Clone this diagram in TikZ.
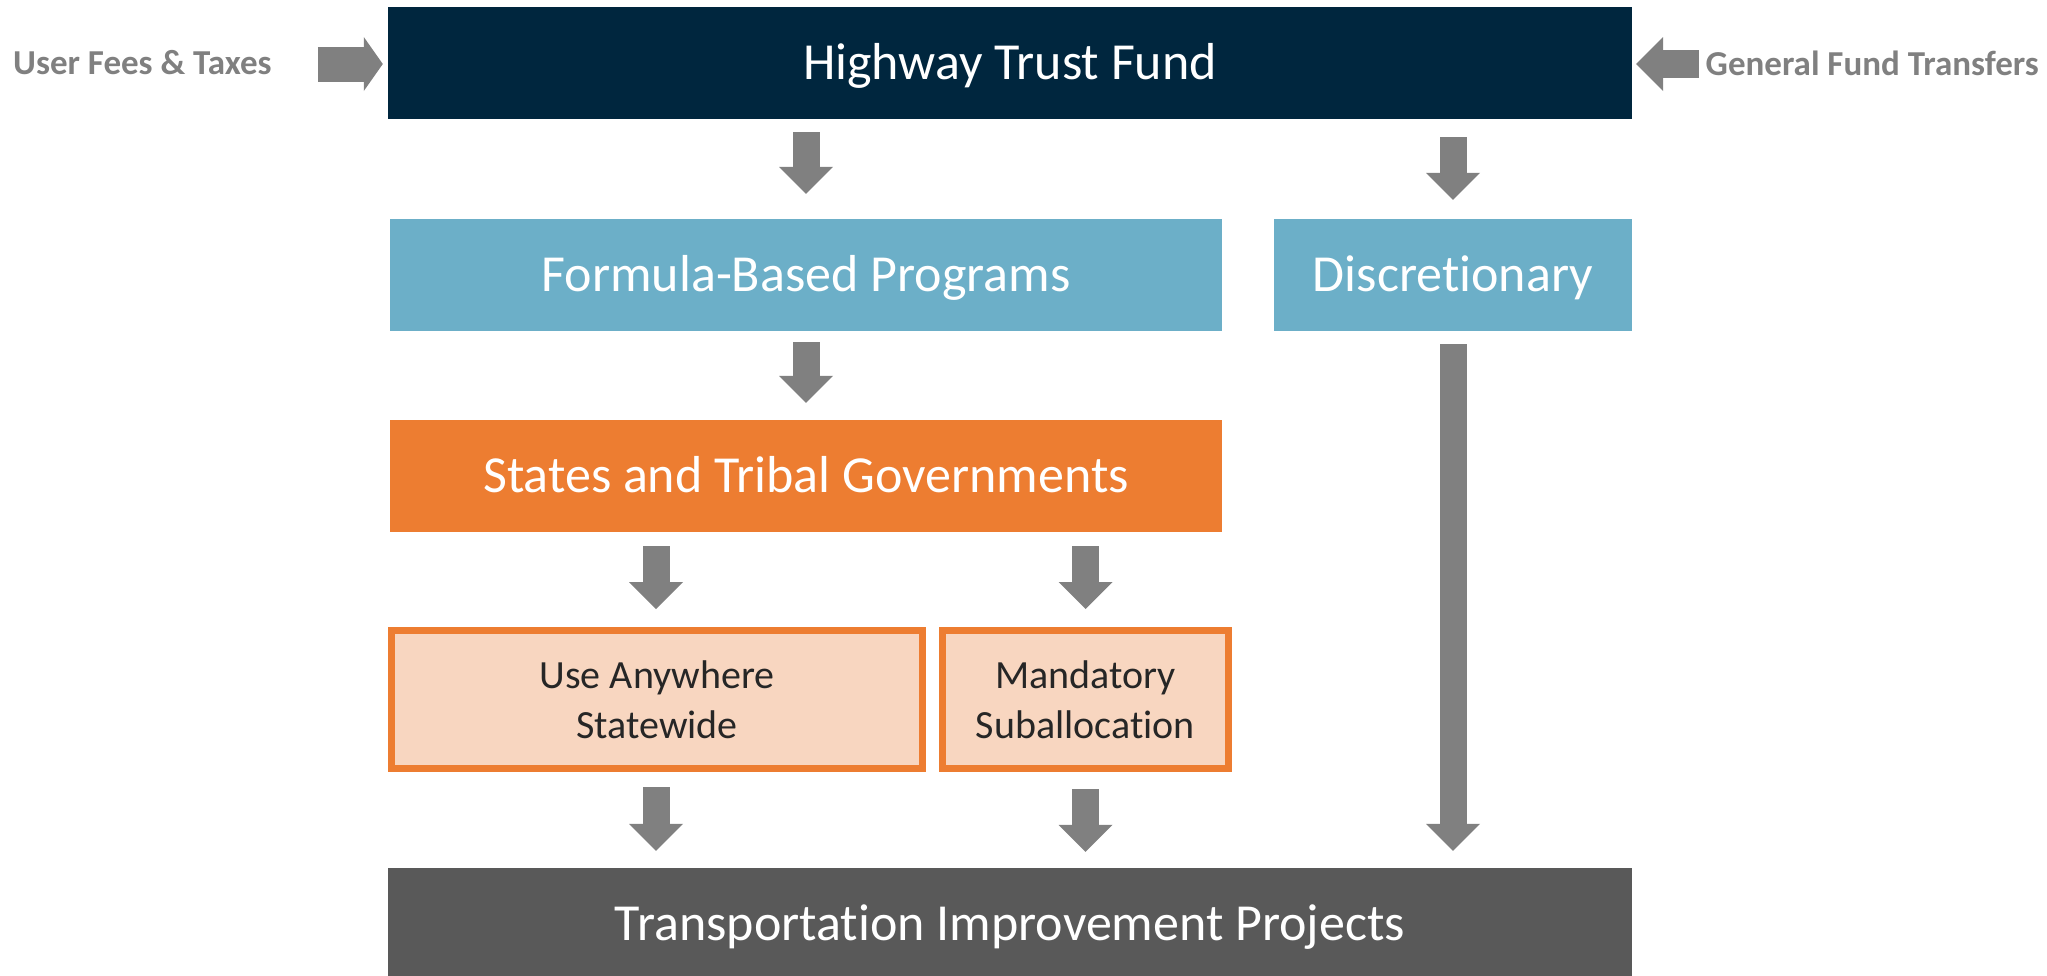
\documentclass[tikz,border=0pt]{standalone}
\usepackage{fontspec}
\setmainfont[Ligatures=NoCommon]{Carlito}
\usetikzlibrary{arrows.meta,calc}
\definecolor{navy}{HTML}{00263E}
\definecolor{lblue}{HTML}{6CAFC8}
\definecolor{orng}{HTML}{ED7D31}
\definecolor{peach}{HTML}{F8D6C0}
\definecolor{dgray}{HTML}{595959}
\definecolor{agray}{HTML}{808080}
\definecolor{tdark}{HTML}{262626}
\begin{document}
\begin{tikzpicture}[x=1pt,y=1pt,
  mainbox/.style={rectangle, inner sep=0pt, text=white, text height=33pt, text depth=0pt,
    font=\fontsize{52}{60}\selectfont},
  subbox/.style={rectangle, inner sep=0pt, draw=orng, line width=7pt, fill=peach, text=tdark,
    align=center, font=\fontsize{40}{50}\selectfont},
  sidetext/.style={inner sep=0pt, text=agray, font=\fontsize{35}{40}\selectfont\bfseries},
  barr/.style={draw=agray, line width=27pt, -{Triangle[length=27pt,width=54pt,line width=0pt]}}
]
\useasboundingbox (0,0) rectangle (2047,-975);

\node[mainbox, fill=navy, minimum width=1244pt, minimum height=112pt] (htf) at (1010,-63) {Highway Trust Fund};
\node[mainbox, fill=lblue, minimum width=832pt, minimum height=112pt] (formula) at (806,-275) {Formula-Based Programs};
\node[mainbox, fill=lblue, minimum width=358pt, minimum height=112pt] (disc) at (1453,-275) {Discretionary};
\node[mainbox, fill=orng, minimum width=832pt, minimum height=112pt] (states) at (806,-476) {States and Tribal Governments};
\node[subbox, minimum width=531pt, minimum height=138pt] (use) at (657,-699.5) {Use Anywhere\\Statewide};
\node[subbox, minimum width=286pt, minimum height=138pt] (mand) at (1085.5,-699.5) {Mandatory\\Suballocation};
\node[mainbox, fill=dgray, minimum width=1244pt, minimum height=112pt] (tip) at (1010,-924) {Transportation Improvement Projects};

\node[sidetext, anchor=west] (uf) at (13,-63) {User Fees \& Taxes};
\node[sidetext, anchor=east] (gf) at (2039,-63) {General Fund Transfers};

% side arrows
\draw[draw=agray, line width=35pt, -{Triangle[length=19pt,width=54pt,line width=0pt]}]
  ($(htf.west)+(-70,-1)$) -- ($(htf.west)+(-5,-1)$);
\draw[draw=agray, line width=28pt, -{Triangle[length=27pt,width=54pt,line width=0pt]}]
  ($(htf.east)+(67,-1)$) -- ($(htf.east)+(4,-1)$);

% vertical arrows
\draw[barr] ($(formula.north |- htf.south)+(0,-13)$) -- ($(formula.north)+(0,25)$);
\draw[barr] ($(disc.north |- htf.south)+(0,-18)$) -- ($(disc.north)+(0,19)$);
\draw[barr] ($(formula.south)+(0,-11)$) -- ($(states.north)+(0,17)$);
\draw[barr] ($(use.north |- states.south)+(-1,-14)$) -- ($(use.north)+(-1,18)$);
\draw[barr] ($(mand.north |- states.south)+(0,-14)$) -- ($(mand.north)+(0,18)$);
\draw[barr] ($(use.south)+(-1,-15)$) -- ($(use.south |- tip.north)+(-1,17)$);
\draw[barr] ($(mand.south)+(0,-17)$) -- ($(mand.south |- tip.north)+(0,16)$);
\draw[barr] ($(disc.south)+(0,-13)$) -- ($(disc.south |- tip.north)+(0,17)$);
\end{tikzpicture}
\end{document}
